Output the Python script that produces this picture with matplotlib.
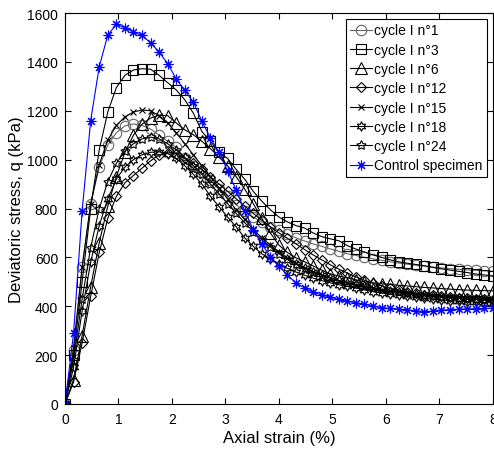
import matplotlib
matplotlib.use("Agg")
import matplotlib.pyplot as plt

plt.rcParams['font.family'] = ['Liberation Sans', 'DejaVu Sans']

# axial strain (%) at which each specimen was sampled
strain = [0.00, 0.16, 0.32, 0.48, 0.64, 0.80, 0.96, 1.12, 1.28, 1.44,
          1.60, 1.76, 1.92, 2.08, 2.24, 2.40, 2.56, 2.72, 2.88, 3.04,
          3.20, 3.36, 3.52, 3.68, 3.84, 4.00, 4.16, 4.32, 4.48, 4.64,
          4.80, 4.96, 5.12, 5.28, 5.44, 5.60, 5.76, 5.92, 6.08, 6.24,
          6.40, 6.56, 6.72, 6.88, 7.04, 7.20, 7.36, 7.52, 7.68, 7.84, 8.00]

# deviatoric stress q (kPa)
cycle1 = [0, 220, 560, 820, 970, 1060, 1110, 1138, 1146, 1140,
          1125, 1100, 1075, 1050, 1005, 975, 945, 915, 880, 850,
          815, 790, 765, 745, 725, 710, 695, 680, 667, 655,
          645, 635, 625, 615, 608, 600, 594, 588, 582, 577,
          572, 568, 564, 560, 557, 554, 551, 549, 547, 545, 543]
cycle3 = [0, 200, 500, 800, 1040, 1195, 1295, 1345, 1367, 1372,
          1370, 1345, 1315, 1285, 1245, 1190, 1115, 1075, 1030, 1005,
          960, 920, 870, 830, 795, 765, 745, 730, 720, 700,
          685, 676, 668, 648, 634, 622, 610, 600, 590, 582,
          576, 571, 566, 559, 553, 548, 543, 538, 532, 528, 524]
cycle6 = [0, 100, 280, 480, 660, 810, 930, 1030, 1100, 1145,
          1170, 1182, 1180, 1150, 1122, 1102, 1075, 1045, 1010, 975,
          930, 880, 820, 760, 700, 650, 620, 598, 582, 565,
          548, 532, 524, 516, 508, 500, 496, 492, 489, 486,
          483, 480, 477, 475, 472, 470, 468, 466, 465, 464, 463]
cycle12 = [0, 90, 250, 440, 620, 760, 850, 905, 935, 965,
           995, 1020, 1028, 1025, 1005, 985, 960, 930, 900, 870,
           840, 810, 780, 752, 725, 700, 678, 655, 632, 610,
           590, 570, 552, 536, 520, 506, 494, 483, 474, 466,
           459, 453, 448, 444, 440, 437, 434, 432, 430, 428, 427]
cycle15 = [0, 230, 560, 820, 980, 1080, 1140, 1175, 1195, 1203,
           1200, 1180, 1150, 1110, 1065, 1020, 975, 930, 885, 840,
           795, 755, 715, 680, 650, 622, 597, 576, 558, 542,
           528, 516, 505, 496, 488, 480, 474, 468, 462, 457,
           452, 448, 445, 442, 440, 438, 436, 434, 433, 432, 431]
cycle18 = [0, 150, 380, 580, 730, 840, 920, 970, 1000, 1020,
           1030, 1032, 1025, 1005, 975, 940, 900, 850, 808, 765,
           725, 680, 645, 615, 592, 572, 555, 540, 527, 515,
           505, 496, 488, 481, 474, 467, 460, 454, 449, 444,
           440, 436, 432, 429, 426, 423, 421, 419, 417, 415, 414]
cycle24 = [0, 180, 430, 640, 800, 910, 985, 1035, 1065, 1085,
           1092, 1085, 1065, 1040, 1010, 975, 940, 900, 860, 820,
           780, 742, 705, 672, 642, 615, 592, 572, 555, 540,
           527, 516, 506, 497, 489, 482, 475, 469, 463, 458,
           453, 449, 445, 441, 438, 435, 432, 430, 428, 426, 425]
control = [0, 290, 790, 1160, 1380, 1510, 1553, 1540, 1522, 1508,
           1478, 1440, 1393, 1330, 1283, 1235, 1157, 1088, 1030, 955,
           875, 790, 712, 655, 603, 565, 527, 495, 475, 457,
           446, 437, 428, 420, 414, 408, 400, 394, 391, 388,
           385, 381, 378, 380, 384, 386, 388, 389, 390, 391, 392]

labels = ['cycle I n°1', 'cycle I n°3', 'cycle I n°6', 'cycle I n°12',
          'cycle I n°15', 'cycle I n°18', 'cycle I n°24', 'Control specimen']
series = [cycle1, cycle3, cycle6, cycle12, cycle15, cycle18, cycle24, control]
# MATLAB-like markers: circle, square, triangle, diamond, x, hexagram, pentagram, asterisk
markers = ['o', 's', '^', 'D', 'x', (6, 1, 0), (5, 1, 0), (8, 2, 0)]
colors = ['0.4', 'k', 'k', 'k', 'k', 'k', 'k', 'b']
sizes = [7.5, 7, 8, 5.5, 5, 7, 7, 7]

fig = plt.figure(figsize=(4.94, 4.52), dpi=100)
ax = fig.add_axes([0.1316, 0.104, 0.866, 0.865])

for y, lab, m, c, s in zip(series, labels, markers, colors, sizes):
    ax.plot(strain, y, marker=m, color=c, markersize=s, linewidth=0.8,
            markerfacecolor='none', markeredgecolor=c, markeredgewidth=0.8,
            label=lab)

ax.set_xlim(0, 8)
ax.set_ylim(0, 1600)
ax.set_xticks(range(0, 9))
ax.set_yticks(range(0, 1601, 200))
ax.tick_params(direction='in', top=True, right=True, labelsize=10, length=4)
ax.tick_params(axis='x', pad=6)
ax.tick_params(axis='y', pad=5)
ax.set_xlabel('Axial strain (%)', fontsize=12, labelpad=3)
ax.set_ylabel('Deviatoric stress, q (kPa)', fontsize=12, labelpad=2)

leg = ax.legend(loc='upper right', fontsize=10, handlelength=1.6,
                handletextpad=0.15, labelspacing=0.38, borderpad=0.3,
                borderaxespad=0.45, fancybox=False, framealpha=1)
leg.get_frame().set_edgecolor('k')
leg.get_frame().set_linewidth(0.8)

fig.savefig('out.png', dpi=100)
